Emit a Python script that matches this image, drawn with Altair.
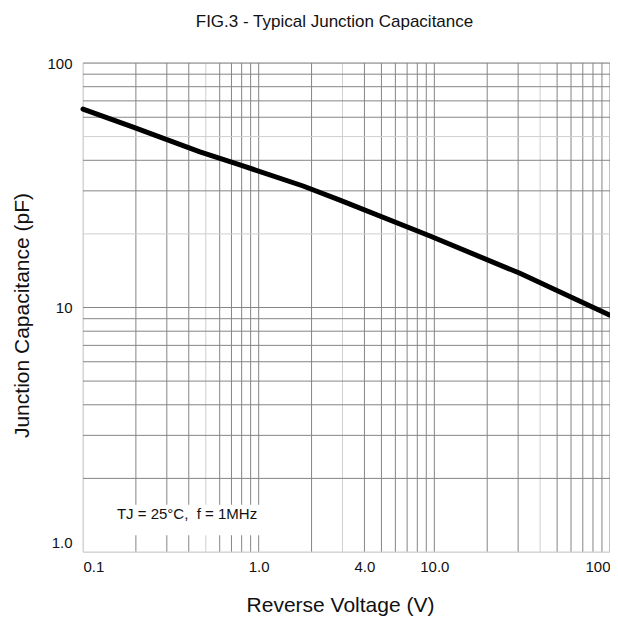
import altair as alt
import pandas as pd

# Curve (reverse voltage in V, capacitance in pF)
voltage = [0.1, 0.193, 0.463, 0.783, 1.79, 2.9, 9.45, 30.7, 100]
capacitance = [64.8, 54.7, 43.3, 38.3, 31.4, 27.5, 19.6, 13.8, 9.3]

# Grid lines
x_grid = [0.1, 0.2, 0.3, 0.4, 0.5, 0.6, 0.7, 0.8, 0.9,
          1, 2, 3, 4, 5, 6, 7, 8, 9,
          10, 20, 30, 40, 50, 60, 70, 80, 90, 100]
x_grid_light = [0.1, 0.5, 3, 40]
y_grid = [1, 2, 3, 4, 5, 6, 7, 8, 9,
          10, 20, 30, 40, 50, 60, 70, 80, 90, 100]
y_grid_light = [1, 20, 50]

# Tick labels
x_tick_values = [0.1, 1, 4, 10, 100]
x_tick_labels = ["0.1", "1.0", "4.0", "10.0", "100"]
y_tick_values = [1, 10, 100]
y_tick_labels = ["1.0", "10", "100"]

# Annotation
ann_v = [0.156]
ann_c = [1.43]
ann_text = ["TJ = 25°C,\u00a0\u00a0f = 1MHz"]
box_v = [0.142, 1.06]
box_c = [1.17, 1.56]

FONT = "Liberation Sans"
TXT = "#111111"


def label_expr(values, labels):
    parts = [f"datum.value == {v} ? '{l}'" for v, l in zip(values, labels)]
    return " : ".join(parts) + " : ''"


scale_x = alt.Scale(type="log", domain=[0.1, 100], nice=False)
scale_y = alt.Scale(type="log", domain=[1, 100], nice=False)

x_axis = alt.Axis(values=x_tick_values,
                  labelExpr=label_expr(x_tick_values, x_tick_labels),
                  title="Reverse Voltage (V)", grid=False, ticks=False,
                  domain=False, labelFlush=True, labelOverlap=False,
                  labelFontSize=15, labelPadding=7, labelColor=TXT,
                  labelFont=FONT, titleFont=FONT, titleFontSize=21,
                  titleFontWeight="normal", titleColor=TXT,
                  titleBaseline="alphabetic", titleAlign="center",
                  titleX=257, titleY=59)
y_axis = alt.Axis(values=y_tick_values,
                  labelExpr=label_expr(y_tick_values, y_tick_labels),
                  title="Junction Capacitance (pF)", grid=False, ticks=False,
                  domain=False, labelOverlap=False,
                  labelFontSize=15, labelPadding=11, labelColor=TXT,
                  labelOffset={"condition": {"test": "datum.value == 1", "value": -10}, "value": 0},
                  labelFont=FONT, titleFont=FONT, titleFontSize=21,
                  titleFontWeight="normal", titleColor=TXT,
                  titleBaseline="middle", titleAngle=-90,
                  titleX=-61, titleY=252)


def X(field="v"):
    return alt.X(f"{field}:Q", scale=scale_x, axis=x_axis)


def Y(field="c"):
    return alt.Y(f"{field}:Q", scale=scale_y, axis=y_axis)


x_dark = [v for v in x_grid if v not in x_grid_light]
y_dark = [v for v in y_grid if v not in y_grid_light]

gx_dark = alt.Chart(pd.DataFrame({"v": x_dark})).mark_rule(
    color="#858585", strokeWidth=1).encode(x=X())
gx_light = alt.Chart(pd.DataFrame({"v": x_grid_light})).mark_rule(
    color="#cfcfcf", strokeWidth=1).encode(x=X())
gy_dark = alt.Chart(pd.DataFrame({"c": y_dark})).mark_rule(
    color="#858585", strokeWidth=1).encode(y=Y())
gy_light = alt.Chart(pd.DataFrame({"c": y_grid_light})).mark_rule(
    color="#cfcfcf", strokeWidth=1).encode(y=Y())

box = alt.Chart(pd.DataFrame({"v": [box_v[0]], "v2": [box_v[1]],
                              "c": [box_c[0]], "c2": [box_c[1]]})).mark_rect(
    color="white"
).encode(x=X(), x2="v2:Q", y=Y(), y2="c2:Q")

ann = alt.Chart(pd.DataFrame({"v": ann_v, "c": ann_c, "t": ann_text})).mark_text(
    align="left", baseline="middle", fontSize=15, font=FONT, color=TXT
).encode(x=X(), y=Y(), text="t:N")

line = alt.Chart(pd.DataFrame({"v": voltage, "c": capacitance})).mark_line(
    color="black", strokeWidth=5, strokeCap="round", clip=False
).encode(x=X(), y=Y())

chart = alt.layer(gx_dark, gx_light, gy_dark, gy_light, box, line, ann).properties(
    width=527,
    height=489,
    autosize=alt.AutoSizeParams(type="none"),
    padding={"left": 75, "top": 55, "right": 0, "bottom": 66},
    background="white",
    title=alt.TitleParams("FIG.3 - Typical Junction Capacitance", fontSize=17,
                          fontWeight="normal", font=FONT, color=TXT,
                          frame="group", anchor="middle", dx=-12, offset=25),
).configure_view(stroke=None).configure(font=FONT)

chart.save("out.html", embed_options={"renderer": "svg", "actions": False})
